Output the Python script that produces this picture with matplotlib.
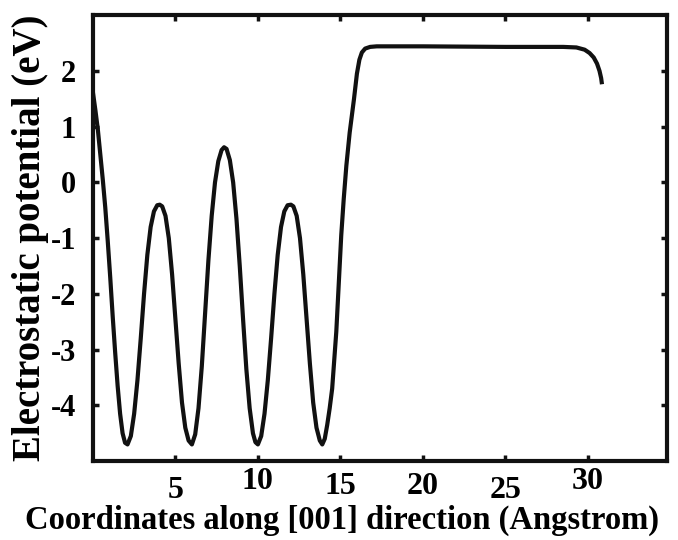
import matplotlib
matplotlib.use("Agg")
import matplotlib.pyplot as plt

# Data
coord = [0.0, 0.15, 0.3, 0.45, 0.6, 0.75, 0.9, 1.05, 1.2, 1.35, 1.5, 1.65, 1.8, 1.95, 2.1,
         2.3, 2.5, 2.7, 2.9, 3.1, 3.3, 3.5, 3.7, 3.9, 4.05,
         4.2, 4.4, 4.6, 4.8, 5.0, 5.2, 5.4, 5.6, 5.8, 6.0,
         6.2, 6.4, 6.6, 6.8, 7.0, 7.2, 7.4, 7.6, 7.8, 7.95,
         8.1, 8.3, 8.5, 8.7, 8.9, 9.1, 9.3, 9.5, 9.7, 9.85, 10.0,
         10.2, 10.4, 10.6, 10.8, 11.0, 11.2, 11.4, 11.6, 11.8, 12.0,
         12.15, 12.35, 12.55, 12.75, 12.95, 13.15, 13.35, 13.55, 13.75, 13.9,
         14.05, 14.2, 14.35, 14.5, 14.75, 15.05, 15.2, 15.36, 15.56, 15.82, 16.0,
         16.15, 16.3, 16.5, 16.8, 17.2, 20.0, 25.0, 28.5, 29.3, 29.8, 30.1,
         30.35, 30.55, 30.7, 30.8, 30.85]
potential = [1.62, 1.3, 0.95, 0.5, 0.05, -0.45, -1.05, -1.7, -2.4, -3.05, -3.65, -4.15, -4.5, -4.67, -4.7,
             -4.55, -4.15, -3.55, -2.8, -2.0, -1.3, -0.8, -0.52, -0.41, -0.4,
             -0.43, -0.6, -1.0, -1.65, -2.45, -3.25, -3.95, -4.4, -4.63, -4.7,
             -4.52, -4.05, -3.3, -2.35, -1.4, -0.6, 0.0, 0.38, 0.58, 0.63,
             0.6, 0.4, 0.0, -0.65, -1.5, -2.45, -3.35, -4.05, -4.5, -4.66, -4.7,
             -4.55, -4.15, -3.55, -2.8, -2.0, -1.3, -0.8, -0.52, -0.41, -0.4,
             -0.43, -0.6, -1.0, -1.65, -2.45, -3.25, -3.95, -4.4, -4.63, -4.7,
             -4.6, -4.35, -4.05, -3.7, -2.68, -0.95, -0.3, 0.3, 0.89, 1.49, 1.95,
             2.2, 2.33, 2.4, 2.43, 2.44, 2.44, 2.43, 2.43, 2.42, 2.38, 2.32,
             2.24, 2.13, 2.0, 1.87, 1.76]
xticks = [5, 10, 15, 20, 25, 30]
yticks = [-4, -3, -2, -1, 0, 1, 2]
xlabel = "Coordinates along [001] direction (Angstrom)"
ylabel = "Electrostatic potential (eV)"

plt.rcParams['font.family'] = ['Liberation Serif', 'DejaVu Serif']
plt.rcParams['font.weight'] = 'bold'

fig = plt.figure(figsize=(6.78, 5.40), dpi=100)
ax = fig.add_axes([0.137, 0.146, 0.847, 0.826])

ax.plot(coord, potential, color='#111111', linewidth=3.0, solid_capstyle='butt')

ax.set_xlim(0, 34.8)
ax.set_ylim(-5, 3)
ax.set_xticks(xticks)
ax.set_yticks(yticks)
ax.set_xticklabels([str(t) for t in xticks], fontsize=23, fontweight='bold')
ax.set_yticklabels([str(t) for t in yticks], fontsize=22, fontweight='bold')

ax.tick_params(direction='in', length=4, width=2.5, top=True, right=True, color='#111111')
ax.tick_params(axis='y', pad=12)
base = 4
extra = [6.5, 0, 3.6, 3.6, 6.5, 0]
for tk, e in zip(ax.xaxis.get_major_ticks(), extra):
    tk.set_pad(base + e)

for s in ax.spines.values():
    s.set_linewidth(3.0)
    s.set_color('#111111')

ax.set_xlabel(xlabel, fontsize=23.5, fontweight='bold', labelpad=0)
ax.xaxis.label.set_x(0.433)
ax.set_ylabel(ylabel, fontsize=28, fontweight='bold', labelpad=1)

fig.savefig("out.png", dpi=100)
